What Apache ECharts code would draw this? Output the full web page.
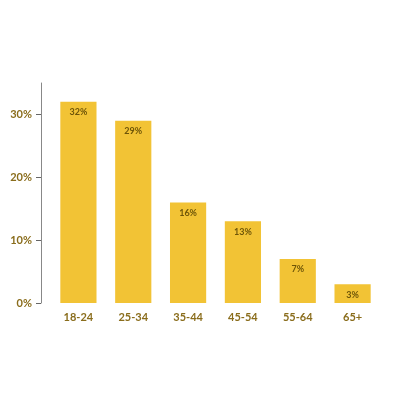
<!DOCTYPE html>
<html><head><meta charset="utf-8">
<script src="https://cdn.jsdelivr.net/npm/echarts@6/dist/echarts.min.js"></script>
<style>html,body{margin:0;padding:0;background:#fff}#c{width:400px;height:400px}</style>
</head><body><div id="c"></div>
<script>
const categories = ['18-24','25-34','35-44','45-54','55-64','65+'];
const values = [32, 29, 16, 13, 7, 3];
const yTicks = [0, 10, 20, 30];

const chart = echarts.init(document.getElementById('c'), null, {renderer:'canvas'});
chart.setOption({
  animation:false,
  grid:{left:51, right:20, top:83, bottom:97, containLabel:false},
  xAxis:{type:'category', data:categories,
    axisLine:{show:false}, axisTick:{show:false},
    axisLabel:{color:'#8a6d1c', fontSize:11, fontFamily:'Lato', fontWeight:'bold', margin:9}},
  yAxis:{type:'value', min:0, max:35, offset:10,
    axisLine:{show:true, lineStyle:{color:'#888', width:1}},
    axisTick:{show:true, length:5, lineStyle:{color:'#666'}, customValues:yTicks},
    axisLabel:{color:'#8a6d1c', fontSize:11, fontFamily:'Lato', fontWeight:'bold', margin:9, customValues:yTicks,
      formatter: v => v + '%'},
    splitLine:{show:false}},
  series:[{type:'bar', data:values, barWidth:'66%',
    itemStyle:{color:'#F2C335'},
    label:{show:true, position:'insideTop', distance:6, color:'#6e5508', fontSize:9, fontWeight:'bold', fontFamily:'Lato',
      formatter: p => p.value + '%'}}]
});
</script></body></html>
